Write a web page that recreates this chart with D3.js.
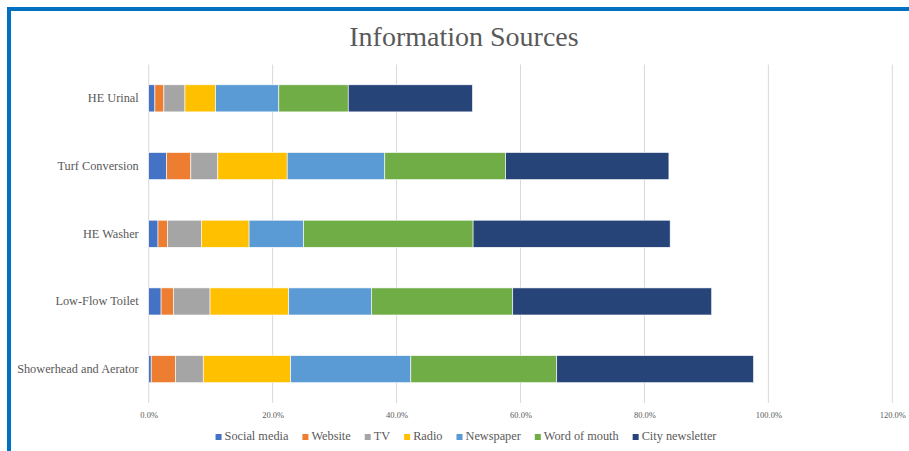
<!DOCTYPE html>
<html>
<head>
<meta charset="utf-8">
<script src="https://cdn.jsdelivr.net/npm/d3@7"></script>
<style>
  html, body { margin: 0; padding: 0; background: #fff; }
  svg { display: block; }
  svg text { font-family: "Liberation Serif", "Times New Roman", serif; }
</style>
</head>
<body>
<svg id="chart" width="909" height="451"></svg>
<script>
const categories = ["HE Urinal", "Turf Conversion", "HE Washer", "Low-Flow Toilet", "Showerhead and Aerator"];
const seriesNames = ["Social media", "Website", "TV", "Radio", "Newspaper", "Word of mouth", "City newsletter"];
const seriesColors = ["#4472C4", "#ED7D31", "#A5A5A5", "#FFC000", "#5B9BD5", "#70AD47", "#264478"];
// values in percent, one array per series, in category order
const socialMedia    = [1.0, 2.9, 1.5, 2.0, 0.4];
const website        = [1.45, 3.9, 1.55, 2.0, 3.95];
const tv             = [3.4, 4.35, 5.45, 5.9, 4.45];
const radio          = [4.95, 11.2, 7.7, 12.7, 14.1];
const newspaper      = [10.2, 15.75, 8.8, 13.35, 19.4];
const wordOfMouth    = [11.2, 19.5, 27.35, 22.8, 23.55];
const cityNewsletter = [20.05, 26.35, 31.8, 32.1, 31.75];
const tickValues = [0, 20, 40, 60, 80, 100, 120];

const seriesValues = [socialMedia, website, tv, radio, newspaper, wordOfMouth, cityNewsletter];
const rows = categories.map((c, i) => {
  const r = { category: c };
  seriesNames.forEach((s, j) => { r[s] = seriesValues[j][i]; });
  return r;
});

const svg = d3.select("#chart");
const textColor = "#595959";
const serif = "'Liberation Serif', 'Times New Roman', serif";

// outer border
svg.append("rect")
  .attr("x", 9).attr("y", 9)
  .attr("width", 1000).attr("height", 1000)
  .attr("fill", "none")
  .attr("stroke", "#0070C0")
  .attr("stroke-width", 4);

// title
svg.append("text")
  .attr("x", 464).attr("y", 46)
  .attr("text-anchor", "middle")
  .style("font-family", serif)
  .style("font-size", "28px")
  .attr("fill", textColor)
  .text("Information Sources");

const x = d3.scaleLinear().domain([0, 120]).range([148.7, 892.3]);
const y = d3.scaleBand().domain(categories).range([64.5, 403])
  .paddingInner(0.6).paddingOuter(0.3);

// gridlines
svg.append("g").selectAll("line").data(tickValues).join("line")
  .attr("x1", d => x(d)).attr("x2", d => x(d))
  .attr("y1", 64.5).attr("y2", 403)
  .attr("stroke", "#d9d9d9").attr("stroke-width", 1);

// x axis labels
const xAxis = d3.axisBottom(x).tickValues(tickValues)
  .tickFormat(d => d.toFixed(1) + "%").tickSize(0).tickPadding(0);
const xg = svg.append("g").attr("transform", "translate(0,412)").call(xAxis)
  .attr("font-family", null).attr("font-size", null);
xg.select(".domain").remove();
xg.selectAll("text")
  .style("font-family", serif)
  .style("font-size", "8.5px")
  .attr("fill", textColor);

// y axis labels
const yAxis = d3.axisLeft(y).tickSize(0).tickPadding(10);
const yg = svg.append("g").attr("transform", "translate(" + 148.7 + ",0)").call(yAxis)
  .attr("font-family", null).attr("font-size", null);
yg.select(".domain").remove();
yg.selectAll("text")
  .style("font-family", serif)
  .style("font-size", "12.3px")
  .attr("fill", textColor);

// stacked bars
const stack = d3.stack().keys(seriesNames)(rows);
svg.append("g").selectAll("g").data(stack).join("g")
  .attr("fill", (d, i) => seriesColors[i])
  .selectAll("rect").data(d => d).join("rect")
  .attr("x", d => x(d[0]))
  .attr("width", d => x(d[1]) - x(d[0]))
  .attr("y", d => y(d.data.category))
  .attr("height", y.bandwidth())
  .attr("stroke", "#ffffff")
  .attr("stroke-width", 0.6);

// legend
const legend = svg.append("g");
const items = legend.selectAll("g").data(seriesNames).join("g");
items.append("rect")
  .attr("width", 6).attr("height", 6)
  .attr("y", -6)
  .attr("fill", (d, i) => seriesColors[i]);
items.append("text")
  .attr("x", 9).attr("y", 0)
  .style("font-family", serif)
  .style("font-size", "12.3px")
  .attr("fill", textColor)
  .text(d => d);
let cx = 0;
items.each(function() {
  const w = d3.select(this).select("text").node().getComputedTextLength() + 9;
  d3.select(this).attr("transform", "translate(" + cx + ",0)");
  cx += w + 14;
});
const totalW = cx - 14;
legend.attr("transform", "translate(" + (466 - totalW / 2) + ",440)");
</script>
</body>
</html>
